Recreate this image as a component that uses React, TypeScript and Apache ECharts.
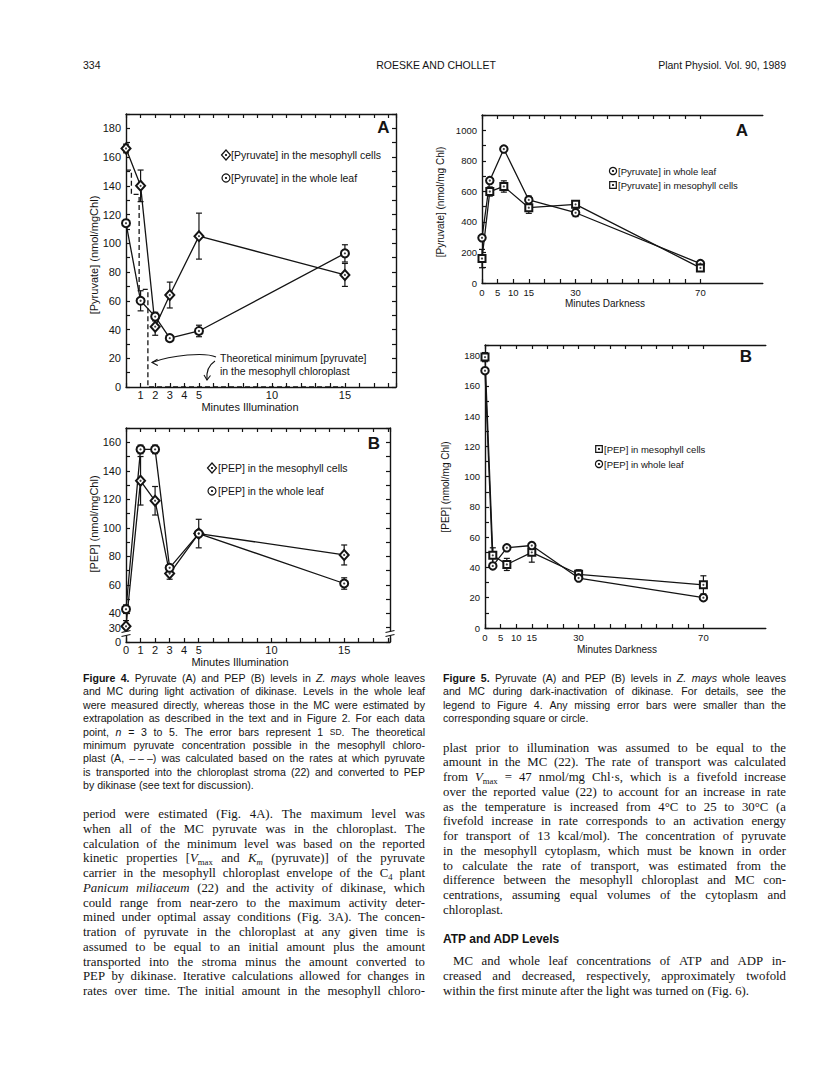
import React, { useEffect, useRef } from "react";
import * as echarts from "echarts";

// ---------------- Data ----------------
// Figure 4 (light activation)
const illumMinutes = [0, 1, 2, 3, 5, 15];
const pyruvateMC4 = [166, 140, 42, 64, 105, 78];
const pyruvateMC4Sd = [3, 11, 6, 9, 16, 8];
const pyruvateLeaf4 = [114, 60, 49, 34, 39, 93];
const pyruvateLeaf4Sd = [2, 7, 3, 2, 4, 6];
const theoMinX = [0, 0.37, 0.37, 0.9, 0.9, 1.5, 1.5, 14.9];
const theoMinY = [151, 151, 134, 134, 68, 68, 0, 0];

const pepMC4 = [31, 133, 119, 68, 96, 81];
const pepMC4Sd = [4, 17, 10, 4, 10, 7];
const pepLeaf4 = [43, 155, 155, 72, 96, 61];
const pepLeaf4Sd = [3, 3, 3, 2, 2, 4];

// Figure 5 (dark inactivation)
const darkMinutes = [0, 2.5, 7, 15, 30, 70];
const pyruvateLeaf5 = [296, 671, 877, 544, 460, 127];
const pyruvateLeaf5Sd = [0, 15, 15, 25, 25, 10];
const pyruvateMC5 = [160, 599, 632, 493, 515, 99];
const pyruvateMC5Sd = [60, 30, 37, 37, 15, 10];
const pepMC5 = [179, 48, 42, 50, 35.5, 28.5];
const pepMC5Sd = [3, 5, 4, 6.5, 3, 6];
const pepLeaf5 = [170, 41, 53, 54.5, 33, 20];
const pepLeaf5Sd = [0, 0, 0, 1, 1, 0];

// Tick labels
const ticks4AX = [1, 2, 3, 4, 5, 10, 15];
const ticks4AY = [0, 20, 40, 60, 80, 100, 120, 140, 160, 180];
const ticks4BX = [0, 1, 2, 3, 4, 5, 10, 15];
const ticks4BY = [20, 30, 40, 60, 80, 100, 120, 140, 160]; // 20 is printed as "0" (broken axis)
const ticks5X = [0, 5, 10, 15, 30, 70];
const ticks5XMinor = [0, 5, 10, 15, 20, 25, 30, 35, 40, 45, 50, 55, 60, 65, 70];
const ticks5AY = [0, 200, 400, 600, 800, 1000];
const ticks5BY = [0, 20, 40, 60, 80, 100, 120, 140, 160, 180];

// Page texts
const headerLeft = "334";
const headerCenter = "ROESKE AND CHOLLET";
const headerRight = "Plant Physiol. Vol. 90, 1989";

const caption4 = [
  "{b|Figure} {b|4.} Pyruvate (A) and PEP (B) levels in {i|Z.} {i|mays} whole leaves",
  "and MC during light activation of dikinase. Levels in the whole leaf",
  "were measured directly, whereas those in the MC were estimated by",
  "extrapolation as described in the text and in Figure 2. For each data",
  "point, {i|n} = 3 to 5. The error bars represent 1 {c|SD}. The theoretical",
  "minimum pyruvate concentration possible in the mesophyll chloro-",
  "plast (A, –\u00a0–\u00a0–) was calculated based on the rates at which pyruvate",
  "is transported into the chloroplast stroma (22) and converted to PEP",
  "by dikinase (see text for discussion).",
];
const caption5 = [
  "{b|Figure} {b|5.} Pyruvate (A) and PEP (B) levels in {i|Z.} {i|mays} whole leaves",
  "and MC during dark-inactivation of dikinase. For details, see the",
  "legend to Figure 4. Any missing error bars were smaller than the",
  "corresponding square or circle.",
];
const bodyLeft = [
  "period were estimated (Fig. 4A). The maximum level was",
  "when all of the MC pyruvate was in the chloroplast. The",
  "calculation of the minimum level was based on the reported",
  "kinetic properties [{i|V}{s|max} and {i|K}{si|m} (pyruvate)] of the pyruvate",
  "carrier in the mesophyll chloroplast envelope of the C{s|4} plant",
  "{i|Panicum} {i|miliaceum} (22) and the activity of dikinase, which",
  "could range from near-zero to the maximum activity deter-",
  "mined under optimal assay conditions (Fig. 3A). The concen-",
  "tration of pyruvate in the chloroplast at any given time is",
  "assumed to be equal to an initial amount plus the amount",
  "transported into the stroma minus the amount converted to",
  "PEP by dikinase. Iterative calculations allowed for changes in",
  "rates over time. The initial amount in the mesophyll chloro-",
];
const bodyRight1 = [
  "plast prior to illumination was assumed to be equal to the",
  "amount in the MC (22). The rate of transport was calculated",
  "from {i|V}{s|max} = 47 nmol/mg Chl·s, which is a fivefold increase",
  "over the reported value (22) to account for an increase in rate",
  "as the temperature is increased from 4°C to 25 to 30°C (a",
  "fivefold increase in rate corresponds to an activation energy",
  "for transport of 13 kcal/mol). The concentration of pyruvate",
  "in the mesophyll cytoplasm, which must be known in order",
  "to calculate the rate of transport, was estimated from the",
  "difference between the mesophyll chloroplast and MC con-",
  "centrations, assuming equal volumes of the cytoplasm and",
  "chloroplast.",
];
const headingATP = "ATP and ADP Levels";
const bodyRight2 = [
  "MC and whole leaf concentrations of ATP and ADP in-",
  "creased and decreased, respectively, approximately twofold",
  "within the first minute after the light was turned on (Fig. 6).",
];

// ---------------- Styling helpers ----------------
const INK = "#141414";
const SANS = "'Liberation Sans', Arial, Helvetica, sans-serif";
const SERIF = "'Liberation Serif', 'Times New Roman', serif";

type TS = { size: number; family: string; weight?: string; italic?: boolean };

let mctx: CanvasRenderingContext2D | null = null;
function measure(text: string, st: TS): number {
  if (!mctx) mctx = document.createElement("canvas").getContext("2d");
  if (!mctx) return text.length * st.size * 0.5;
  mctx.font = `${st.italic ? "italic " : ""}${st.weight === "bold" ? "bold " : ""}${st.size}px ${st.family}`;
  return mctx.measureText(text).width;
}

function parseWord(word: string) {
  const out: { tag: string; text: string }[] = [];
  const re = /\{(\w+)\|([^}]*)\}|([^{]+)/g;
  let m: RegExpExecArray | null;
  while ((m = re.exec(word))) {
    if (m[1]) out.push({ tag: m[1], text: m[2] });
    else out.push({ tag: "", text: m[3] });
  }
  return out;
}

function segStyle(tag: string, base: TS) {
  const s: TS = { ...base };
  let dy = 0;
  if (tag.includes("b")) s.weight = "bold";
  if (tag.includes("i")) s.italic = true;
  if (tag.includes("s")) {
    s.size = base.size * 0.68;
    dy = base.size * 0.3;
  }
  if (tag.includes("c")) s.size = base.size * 0.8;
  return { s, dy };
}

function txt(x: number, y: number, text: string, st: TS, align = "left", extra: any = {}) {
  return {
    type: "text",
    x,
    y,
    silent: true,
    z: 50,
    ...extra,
    style: {
      text,
      fontSize: st.size,
      fontFamily: st.family,
      fontWeight: st.weight || "normal",
      fontStyle: st.italic ? "italic" : "normal",
      fill: INK,
      align,
      verticalAlign: "middle",
    },
  };
}

function textLine(line: string, x0: number, width: number, y: number, base: TS, justify: boolean, indent = 0) {
  const words = line.split(" ").filter((w) => w.length > 0);
  const parsed = words.map((w) =>
    parseWord(w).map((seg) => {
      const { s, dy } = segStyle(seg.tag, base);
      return { ...seg, s, dy, w: measure(seg.text, s) };
    })
  );
  const wordW = parsed.map((p) => p.reduce((a, b) => a + b.w, 0));
  const total = wordW.reduce((a, b) => a + b, 0);
  const space = measure(" ", base);
  const avail = width - indent;
  const gap = justify && words.length > 1 ? Math.max(1.5, (avail - total) / (words.length - 1)) : space;
  const els: any[] = [];
  let x = x0 + indent;
  parsed.forEach((p, i) => {
    let sx = x;
    p.forEach((seg) => {
      els.push(txt(sx, y + seg.dy, seg.text, seg.s));
      sx += seg.w;
    });
    x += wordW[i] + gap;
  });
  return els;
}

function block(lines: string[], x0: number, width: number, y0: number, lh: number, base: TS, lastJustified: boolean, firstIndent = 0) {
  const els: any[] = [];
  lines.forEach((l, i) => {
    const justify = i < lines.length - 1 || lastJustified;
    els.push(...textLine(l, x0, width, y0 + i * lh, base, justify, i === 0 ? firstIndent : 0));
  });
  return els;
}

const dot = (cx: number, cy: number) => ({ type: "circle", z: 51, silent: true, shape: { cx, cy, r: 1.1 }, style: { fill: INK } });
function symDiamond(cx: number, cy: number) {
  return [
    { type: "polygon", z: 50, silent: true, shape: { points: [[cx - 4.5, cy], [cx, cy - 5], [cx + 4.5, cy], [cx, cy + 5]] }, style: { fill: "#fff", stroke: INK, lineWidth: 1.2 } },
    dot(cx, cy),
  ];
}
function symCircle(cx: number, cy: number, r = 4) {
  return [{ type: "circle", z: 50, silent: true, shape: { cx, cy, r }, style: { fill: "#fff", stroke: INK, lineWidth: 1.2 } }, dot(cx, cy)];
}
function symSquare(cx: number, cy: number, h = 3.5) {
  return [{ type: "rect", z: 50, silent: true, shape: { x: cx - h, y: cy - h, width: 2 * h, height: 2 * h }, style: { fill: "#fff", stroke: INK, lineWidth: 1.2 } }, dot(cx, cy)];
}
const ln = (x1: number, y1: number, x2: number, y2: number, w = 1.2) => ({ type: "line", z: 101, silent: true, shape: { x1, y1, x2, y2 }, style: { stroke: INK, lineWidth: w } });

// ---------------- Chart option ----------------
const tickIn = (len = 4) => ({ show: true, inside: true, length: len, lineStyle: { color: INK, width: 1.2 } });
const axLine = { show: true, onZero: false, lineStyle: { color: INK, width: 1.4 } };
function lbl(values: number[], size: number, fmt?: (v: number) => string, margin = 5) {
  return {
    show: true,
    customValues: values,
    formatter: (v: number) => (values.indexOf(v) >= 0 ? (fmt ? fmt(v) : String(v)) : ""),
    fontSize: size,
    fontFamily: SANS,
    color: INK,
    margin,
  };
}

function errRender(params: any, api: any) {
  const x = api.value(0);
  const y = api.value(1);
  const e = api.value(2);
  if (!e) return null;
  const top = api.coord([x, y + e]);
  const bot = api.coord([x, y - e]);
  const st = { stroke: INK, lineWidth: 1.2 };
  const c = 3;
  return {
    type: "group",
    children: [
      { type: "line", shape: { x1: top[0], y1: top[1], x2: bot[0], y2: bot[1] }, style: st },
      { type: "line", shape: { x1: top[0] - c, y1: top[1], x2: top[0] + c, y2: top[1] }, style: st },
      { type: "line", shape: { x1: bot[0] - c, y1: bot[1], x2: bot[0] + c, y2: bot[1] }, style: st },
    ],
  };
}

function panelSeries(xi: number, yi: number, xs: number[], ys: number[], sds: number[], symbol: string, size: any) {
  return [
    { type: "custom", xAxisIndex: xi, yAxisIndex: yi, z: 1, silent: true, renderItem: errRender, data: xs.map((x, i) => [x, ys[i], sds[i]]) },
    {
      type: "line", xAxisIndex: xi, yAxisIndex: yi, z: 2, silent: true,
      data: xs.map((x, i) => [x, ys[i]]), symbol, symbolSize: size, showSymbol: true,
      itemStyle: { color: INK, borderWidth: 1.2 }, lineStyle: { color: INK, width: 1.3 },
    },
    {
      type: "scatter", xAxisIndex: xi, yAxisIndex: yi, z: 3, silent: true,
      data: xs.map((x, i) => [x, ys[i]]), symbol: "circle", symbolSize: 2.2, itemStyle: { color: INK },
    },
  ];
}

function buildOption() {
  const f11: TS = { size: 11, family: SANS };
  const f105: TS = { size: 10.5, family: SANS };
  const f95: TS = { size: 9.5, family: SANS };
  const f10: TS = { size: 10, family: SANS };

  const xAxis: any[] = [
    // 4A
    { type: "value", gridIndex: 0, position: "bottom", min: 0, max: 18.5, interval: 1, axisLine: axLine, axisTick: tickIn(), axisLabel: lbl(ticks4AX, 11, undefined, 2), splitLine: { show: false } },
    { type: "value", gridIndex: 0, position: "top", min: 0, max: 18.5, interval: 1, axisLine: axLine, axisTick: tickIn(), axisLabel: { show: false }, splitLine: { show: false } },
    // 4B
    { type: "value", gridIndex: 1, position: "bottom", min: 0, max: 18.15, interval: 1, axisLine: axLine, axisTick: tickIn(), axisLabel: lbl(ticks4BX, 11, undefined, 2), splitLine: { show: false } },
    { type: "value", gridIndex: 1, position: "top", min: 0, max: 18.15, interval: 1, axisLine: axLine, axisTick: tickIn(), axisLabel: { show: false }, splitLine: { show: false } },
    // 5A
    { type: "value", gridIndex: 2, position: "bottom", min: 0, max: 90, interval: 5, axisLine: axLine, axisTick: { ...tickIn(), customValues: ticks5XMinor }, axisLabel: lbl(ticks5X, 9.5, undefined, 4), splitLine: { show: false } },
    { type: "value", gridIndex: 2, position: "top", min: 0, max: 90, interval: 5, axisLine: axLine, axisTick: { ...tickIn(), customValues: ticks5XMinor }, axisLabel: { show: false }, splitLine: { show: false } },
    // 5B
    { type: "value", gridIndex: 3, position: "bottom", min: 0, max: 90, interval: 5, axisLine: axLine, axisTick: { ...tickIn(), customValues: ticks5XMinor }, axisLabel: lbl(ticks5X, 9.5, undefined, 4), splitLine: { show: false } },
    { type: "value", gridIndex: 3, position: "top", min: 0, max: 90, interval: 5, axisLine: axLine, axisTick: { ...tickIn(), customValues: ticks5XMinor }, axisLabel: { show: false }, splitLine: { show: false } },
  ];
  const yAxis: any[] = [
    { type: "value", gridIndex: 0, position: "left", min: 0, max: 190, interval: 10, axisLine: axLine, axisTick: tickIn(), axisLabel: lbl(ticks4AY, 11), splitLine: { show: false } },
    { type: "value", gridIndex: 0, position: "right", min: 0, max: 190, interval: 10, axisLine: axLine, axisTick: tickIn(), axisLabel: { show: false }, splitLine: { show: false } },
    { type: "value", gridIndex: 1, position: "left", min: 20, max: 170, interval: 10, axisLine: axLine, axisTick: tickIn(), axisLabel: lbl(ticks4BY, 11, (v) => (v === 20 ? "0" : String(v))), splitLine: { show: false } },
    { type: "value", gridIndex: 1, position: "right", min: 20, max: 170, interval: 10, axisLine: axLine, axisTick: tickIn(), axisLabel: { show: false }, splitLine: { show: false } },
    { type: "value", gridIndex: 2, position: "left", min: 0, max: 1100, interval: 100, axisLine: axLine, axisTick: tickIn(), axisLabel: lbl(ticks5AY, 9.5), splitLine: { show: false } },
    { type: "value", gridIndex: 3, position: "left", min: 0, max: 187, interval: 10, axisLine: axLine, axisTick: tickIn(), axisLabel: lbl(ticks5BY, 9.5), splitLine: { show: false } },
  ];

  const series: any[] = [
    ...panelSeries(0, 0, illumMinutes, pyruvateMC4, pyruvateMC4Sd, "emptyDiamond", [9, 10]),
    ...panelSeries(0, 0, illumMinutes, pyruvateLeaf4, pyruvateLeaf4Sd, "emptyCircle", 8),
    {
      type: "line", xAxisIndex: 0, yAxisIndex: 0, z: 2, silent: true, symbol: "none",
      data: theoMinX.map((x, i) => [x, theoMinY[i]]),
      lineStyle: { color: INK, width: 1.3, type: [5, 3] },
    },
    ...panelSeries(2, 2, illumMinutes, pepMC4, pepMC4Sd, "emptyDiamond", [9, 10]),
    ...panelSeries(2, 2, illumMinutes, pepLeaf4, pepLeaf4Sd, "emptyCircle", 8),
    ...panelSeries(4, 4, darkMinutes, pyruvateLeaf5, pyruvateLeaf5Sd, "emptyCircle", 7.5),
    ...panelSeries(4, 4, darkMinutes, pyruvateMC5, pyruvateMC5Sd, "emptyRect", 7),
    ...panelSeries(6, 5, darkMinutes, pepMC5, pepMC5Sd, "emptyRect", 7),
    ...panelSeries(6, 5, darkMinutes, pepLeaf5, pepLeaf5Sd, "emptyCircle", 7.5),
  ];

  const els: any[] = [];
  // header
  els.push(txt(83, 65, headerLeft, f105));
  els.push(txt(436, 65, headerCenter, f105, "center"));
  els.push(txt(786, 65, headerRight, f105, "right"));

  // Fig 4A decorations
  els.push(txt(383.5, 127.5, "A", { size: 17, family: SANS, weight: "bold" }, "center"));
  els.push(...symDiamond(226, 155));
  els.push(txt(231, 155, "[Pyruvate] in the mesophyll cells", f105));
  els.push(...symCircle(226, 178));
  els.push(txt(231, 178, "[Pyruvate] in the whole leaf", f105));
  els.push(txt(220, 357.5, "Theoretical minimum [pyruvate]", f105));
  els.push(txt(220, 370.5, "in the mesophyll chloroplast", f105));
  els.push({ type: "bezierCurve", z: 50, silent: true, shape: { x1: 216, y1: 357, cpx1: 205, cpy1: 352, cpx2: 172, cpy2: 355, x2: 152, y2: 362.5 }, style: { stroke: INK, lineWidth: 1.1, fill: "none" } });
  els.push({ type: "polyline", z: 50, silent: true, shape: { points: [[157.5, 359.3], [152, 362.5], [157.8, 365.6]] }, style: { stroke: INK, lineWidth: 1.1, fill: "none" } });
  els.push({ type: "bezierCurve", z: 50, silent: true, shape: { x1: 215, y1: 361, cpx1: 209, cpy1: 365, cpx2: 206, cpy2: 371, x2: 207, y2: 380 }, style: { stroke: INK, lineWidth: 1.1, fill: "none" } });
  els.push({ type: "polyline", z: 50, silent: true, shape: { points: [[204, 375], [207, 380], [210.5, 375.5]] }, style: { stroke: INK, lineWidth: 1.1, fill: "none" } });
  els.push(txt(250, 407, "Minutes Illumination", f11, "center"));
  els.push(txt(94, 255, "[Pyruvate] (nmol/mgChl)", f11, "center", { rotation: Math.PI / 2 }));

  // Fig 4B decorations
  els.push(txt(374, 443.5, "B", { size: 17, family: SANS, weight: "bold" }, "center"));
  els.push(...symDiamond(212, 468));
  els.push(txt(218, 468, "[PEP] in the mesophyll cells", f105));
  els.push(...symCircle(212, 491));
  els.push(txt(218, 491, "[PEP] in the whole leaf", f105));
  els.push(txt(240, 662, "Minutes Illumination", f11, "center"));
  els.push(txt(94, 524, "[PEP] (nmol/mgChl)", f11, "center", { rotation: Math.PI / 2 }));
  // axis breaks
  [126, 390].forEach((bx) => {
    els.push({ type: "rect", z: 100, silent: true, shape: { x: bx - 3, y: 631.5, width: 6, height: 4 }, style: { fill: "#fff" } });
    els.push(ln(bx - 4.5, 632.5, bx + 4.5, 630.5));
    els.push(ln(bx - 4.5, 636.5, bx + 4.5, 634.5));
  });

  // Fig 5A decorations
  els.push(txt(742, 130, "A", { size: 17, family: SANS, weight: "bold" }, "center"));
  els.push(...symCircle(613, 171, 3.6));
  els.push(txt(618, 171, "[Pyruvate] in whole leaf", f95));
  els.push(...symSquare(613, 185, 3.3));
  els.push(txt(618, 185, "[Pyruvate] in mesophyll cells", f95));
  els.push(txt(605, 303, "Minutes Darkness", f10, "center"));
  els.push(txt(440, 202, "[Pyruvate] (nmol/mg Chl)", f10, "center", { rotation: Math.PI / 2 }));

  // Fig 5B decorations
  els.push(txt(746, 356, "B", { size: 17, family: SANS, weight: "bold" }, "center"));
  els.push(...symSquare(599, 449, 3.3));
  els.push(txt(604, 449, "[PEP] in mesophyll cells", f95));
  els.push(...symCircle(599, 464, 3.6));
  els.push(txt(604, 464, "[PEP] in whole leaf", f95));
  els.push(txt(617, 649, "Minutes Darkness", f10, "center"));
  els.push(txt(445, 487, "[PEP] (nmol/mg Chl)", f10, "center", { rotation: Math.PI / 2 }));

  // Captions
  const capStyle: TS = { size: 10.6, family: SANS };
  els.push(...block(caption4, 83, 342, 678, 13.4, capStyle, false));
  els.push(...block(caption5, 443, 343, 678, 13.4, capStyle, false));

  // Body text
  const bodyStyle: TS = { size: 12.8, family: SERIF };
  els.push(...block(bodyLeft, 83, 342, 814, 14.75, bodyStyle, true));
  els.push(...block(bodyRight1, 443, 343, 747.5, 14.75, bodyStyle, false));
  els.push(txt(443, 938.5, headingATP, { size: 12, family: SANS, weight: "bold" }));
  els.push(...block(bodyRight2, 443, 343, 961, 14.75, bodyStyle, false, 10));

  return {
    animation: false,
    backgroundColor: "#ffffff",
    grid: [
      { left: 126, top: 114, width: 270, height: 273, show: false },
      { left: 126, top: 428, width: 264, height: 214, show: false },
      { left: 482, top: 115, width: 280.8, height: 168, show: false },
      { left: 485, top: 345, width: 280.8, height: 283, show: false },
    ],
    xAxis,
    yAxis,
    series,
    graphic: { elements: els },
  };
}

export default function App() {
  const ref = useRef<HTMLDivElement>(null);
  useEffect(() => {
    if (!ref.current) return;
    const chart = echarts.init(ref.current, null, { renderer: "svg" });
    chart.setOption(buildOption() as any);
    return () => chart.dispose();
  }, []);
  return (
    <div
      ref={ref}
      style={{ position: "absolute", left: 0, top: 0, width: 816, height: 1073, background: "#fff" }}
    />
  );
}
